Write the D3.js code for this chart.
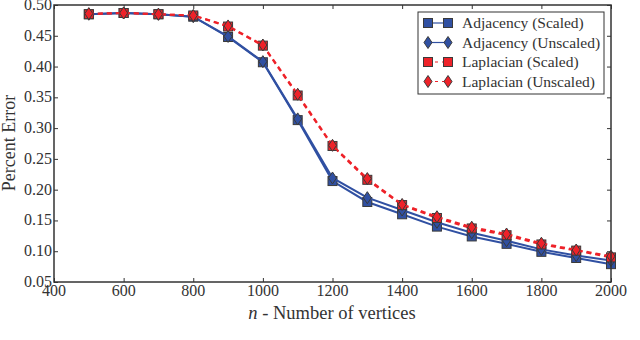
<!DOCTYPE html>
<html lang="en"><head>
<meta charset="utf-8">
<title>Percent Error</title>
<script src="https://cdnjs.cloudflare.com/ajax/libs/d3/7.8.5/d3.min.js"></script>
<style>
  body { margin: 0; background: #fff; }
  svg text { font-family: "Liberation Serif", "DejaVu Serif", serif; fill: #333; }
</style>
</head>
<body>
<svg id="chart" width="640" height="340"></svg>
<script>
// vertex counts
var nVals = [500, 600, 700, 800, 900, 1000, 1100, 1200, 1300, 1400, 1500, 1600, 1700, 1800, 1900, 2000];

// percent error per method
var adjScaled   = [0.485, 0.487, 0.485, 0.481, 0.448, 0.407, 0.313, 0.214, 0.180, 0.160, 0.140, 0.124, 0.112, 0.099, 0.089, 0.079];
var adjUnscaled = [0.485, 0.487, 0.485, 0.481, 0.449, 0.408, 0.315, 0.219, 0.187, 0.167, 0.147, 0.130, 0.117, 0.103, 0.093, 0.085];
var lapScaled   = [0.485, 0.487, 0.485, 0.483, 0.465, 0.434, 0.353, 0.271, 0.216, 0.175, 0.154, 0.137, 0.126, 0.111, 0.101, 0.090];
var lapUnscaled = [0.486, 0.487, 0.485, 0.483, 0.466, 0.435, 0.355, 0.272, 0.218, 0.176, 0.156, 0.139, 0.128, 0.113, 0.102, 0.092];

var xTicks = [400, 600, 800, 1000, 1200, 1400, 1600, 1800, 2000];
var yTicks = [0.05, 0.10, 0.15, 0.20, 0.25, 0.30, 0.35, 0.40, 0.45, 0.50];

var blue = "#3050a2", red = "#ee2229", edge = "#3a3a3a";

var series = [
  {name: "Adjacency (Scaled)",   vals: adjScaled,   color: blue, dash: null,  marker: "square"},
  {name: "Adjacency (Unscaled)", vals: adjUnscaled, color: blue, dash: null,  marker: "diamond"},
  {name: "Laplacian (Scaled)",   vals: lapScaled,   color: red,  dash: "5,4", marker: "square"},
  {name: "Laplacian (Unscaled)", vals: lapUnscaled, color: red,  dash: "5,4", marker: "diamond"}
];

var svg = d3.select("#chart");
var m = {left: 54, right: 611, top: 5, bottom: 282};

var x = d3.scaleLinear().domain([400, 2000]).range([m.left, m.right]);
var y = d3.scaleLinear().domain([0.05, 0.50]).range([m.bottom, m.top]);

// ticks pointing inwards on all four sides
svg.append("g").attr("transform", "translate(0," + m.bottom + ")")
  .call(d3.axisBottom(x).tickValues(xTicks).tickSize(-4).tickFormat(""));
svg.append("g").attr("transform", "translate(0," + m.top + ")")
  .call(d3.axisTop(x).tickValues(xTicks).tickSize(-4).tickFormat(""));
svg.append("g").attr("transform", "translate(" + m.left + ",0)")
  .call(d3.axisLeft(y).tickValues(yTicks).tickSize(-4).tickFormat(""));
svg.append("g").attr("transform", "translate(" + m.right + ",0)")
  .call(d3.axisRight(y).tickValues(yTicks).tickSize(-4).tickFormat(""));
svg.selectAll(".domain").remove();
svg.selectAll(".tick line").attr("stroke", "#333").attr("stroke-width", 1);

// tick labels
svg.append("g").selectAll("text").data(xTicks).enter().append("text")
  .attr("x", function(d) { return x(d); })
  .attr("y", m.bottom + 14)
  .attr("text-anchor", "middle")
  .style("font-size", "16px")
  .text(function(d) { return d; });
svg.append("g").selectAll("text").data(yTicks).enter().append("text")
  .attr("x", m.left - 2)
  .attr("y", function(d) { return y(d) + 5; })
  .attr("text-anchor", "end")
  .style("font-size", "16px")
  .text(function(d) { return d.toFixed(2); });

// axis titles
var xl = svg.append("text").attr("x", 332).attr("y", 319).attr("text-anchor", "middle").style("font-size", "18.5px");
xl.append("tspan").style("font-style", "italic").text("n");
xl.append("tspan").text(" - Number of vertices");
svg.append("text")
  .attr("transform", "translate(15,143) rotate(-90)")
  .attr("text-anchor", "middle")
  .style("font-size", "18px")
  .text("Percent Error");

function drawMarker(g, type, cx, cy, color) {
  if (type === "square") {
    g.append("rect").attr("x", cx - 4.5).attr("y", cy - 4.5).attr("width", 9).attr("height", 9)
      .attr("fill", color).attr("stroke", edge).attr("stroke-width", 1);
  } else {
    g.append("path").attr("d", "M" + cx + "," + (cy - 6) + "L" + (cx + 4) + "," + cy + "L" + cx + "," + (cy + 6) + "L" + (cx - 4) + "," + cy + "Z")
      .attr("fill", color).attr("stroke", edge).attr("stroke-width", 1);
  }
}

var line = d3.line().x(function(d, i) { return x(nVals[i]); }).y(function(d) { return y(d); });

series.forEach(function(s) {
  var g = svg.append("g");
  g.append("path").datum(s.vals).attr("d", line)
    .attr("fill", "none").attr("stroke", s.color).attr("stroke-width", 2)
    .attr("stroke-dasharray", s.dash);
  s.vals.forEach(function(v, i) { drawMarker(g, s.marker, x(nVals[i]), y(v), s.color); });
});

// frame
svg.append("rect").attr("x", m.left).attr("y", m.top).attr("width", m.right - m.left).attr("height", m.bottom - m.top)
  .attr("fill", "none").attr("stroke", "#333").attr("stroke-width", 1.5);

// legend
var lg = svg.append("g");
lg.append("rect").attr("x", 418).attr("y", 12).attr("width", 186).attr("height", 82)
  .attr("fill", "#fff").attr("stroke", "#333").attr("stroke-width", 1);
series.forEach(function(s, i) {
  var ly = 23 + i * 19.5;
  lg.append("line").attr("x1", 428).attr("x2", 448).attr("y1", ly).attr("y2", ly)
    .attr("stroke", s.color).attr("stroke-width", 1.2).attr("stroke-dasharray", s.dash ? "3,4" : null);
  drawMarker(lg, s.marker, 428, ly, s.color);
  drawMarker(lg, s.marker, 448, ly, s.color);
  lg.append("text").attr("x", 462).attr("y", ly + 5).style("font-size", "15.5px").text(s.name);
});
</script>
</body></html>
